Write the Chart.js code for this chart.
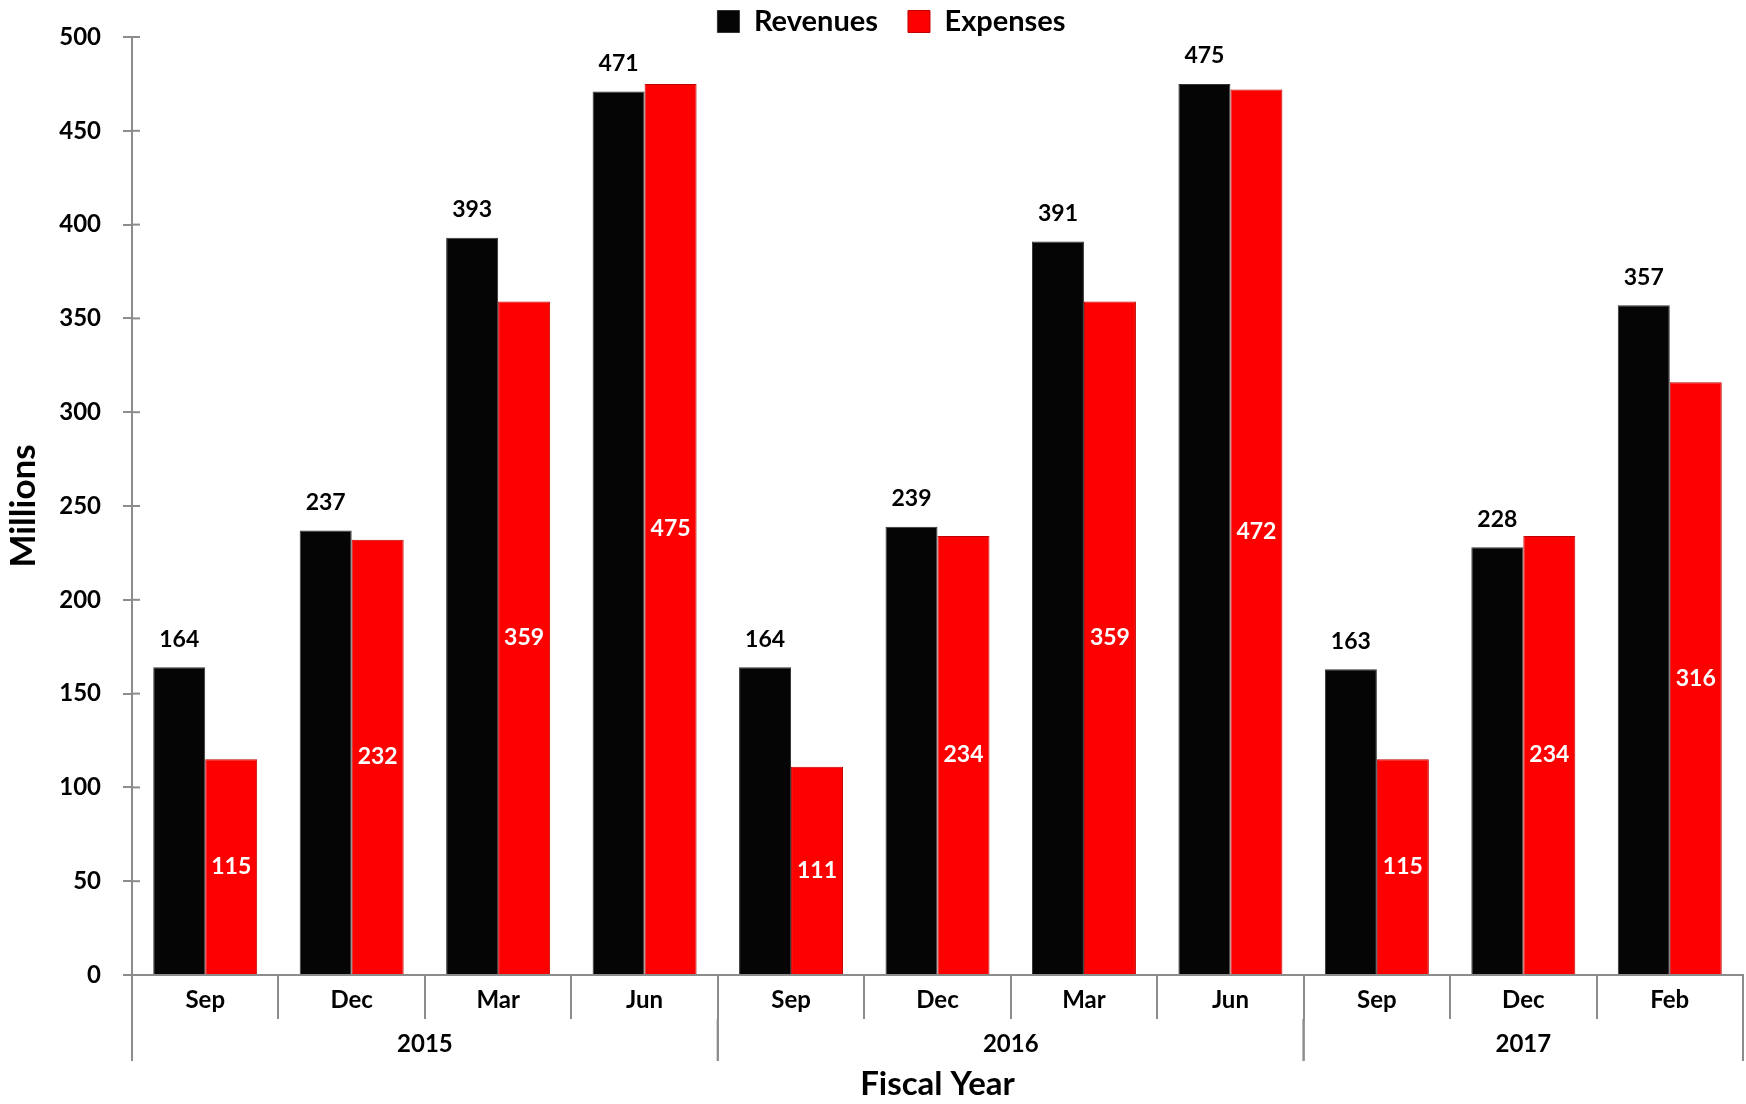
<!DOCTYPE html>
<html>
<head>
<meta charset="utf-8">
<script src="https://cdn.jsdelivr.net/npm/chart.js@4.4.0/dist/chart.umd.min.js"></script>
<style>
  html, body { margin: 0; padding: 0; background: #fff; }
  #wrap { width: 1746px; height: 1104px; }
</style>
</head>
<body>
<div id="wrap"><canvas id="BarChart"></canvas></div>
<script>
// chart values
const months = ['Sep', 'Dec', 'Mar', 'Jun', 'Sep', 'Dec', 'Mar', 'Jun', 'Sep', 'Dec', 'Feb'];
const years = ['2015', '2016', '2017'];
const yearSpans = [4, 4, 3]; // how many months fall under each year
const revenues = [164, 237, 393, 471, 164, 239, 391, 475, 163, 228, 357];
const expenses = [115, 232, 359, 475, 111, 234, 359, 472, 115, 234, 316];
const yMax = 500;
const yStep = 50;

const axisColor = '#8c8c8c';
const font = 'Lato';

// year row under the month labels + value labels on the bars
const fiscalAxis = {
  id: 'fiscalAxis',
  afterDraw(chart) {
    const ctx = chart.ctx;
    const x = chart.scales.x;
    const y = chart.scales.y;
    const area = chart.chartArea;
    ctx.save();
    ctx.strokeStyle = axisColor;
    ctx.lineWidth = 2;

    // small ticks inside the plot on the y axis
    y.ticks.forEach(t => {
      const py = y.getPixelForValue(t.value);
      ctx.beginPath();
      ctx.moveTo(area.left, py);
      ctx.lineTo(area.left + 8, py);
      ctx.stroke();
    });

    const edge = i => {
      if (i <= 0) return x.left;
      if (i >= months.length) return x.right;
      return (x.getPixelForValue(i - 1) + x.getPixelForValue(i)) / 2;
    };
    const rowTop = x.top + 44;
    const rowBottom = x.top + 86;

    ctx.font = 'bold 24px ' + font;
    ctx.fillStyle = '#000';
    ctx.textAlign = 'center';
    ctx.textBaseline = 'middle';
    let start = 0;
    years.forEach((yr, k) => {
      const end = start + yearSpans[k];
      [start, end].forEach(b => {
        ctx.beginPath();
        ctx.moveTo(edge(b), rowTop);
        ctx.lineTo(edge(b), rowBottom);
        ctx.stroke();
      });
      ctx.fillText(yr, (edge(start) + edge(end)) / 2, x.top + 69);
      start = end;
    });

    // value labels
    ctx.font = 'bold 23px ' + font;
    chart.data.datasets.forEach((ds, di) => {
      const meta = chart.getDatasetMeta(di);
      meta.data.forEach((bar, i) => {
        const v = ds.data[i];
        if (di === 0) {
          ctx.fillStyle = '#000';
          ctx.fillText(v, bar.x, bar.y - 28);
        } else {
          ctx.fillStyle = '#fff';
          ctx.fillText(v, bar.x, (bar.y + bar.base) / 2);
        }
      });
    });
    ctx.restore();
  }
};

window.onload = function() {
  const ctx = document.getElementById('BarChart').getContext('2d');
  Chart.defaults.font.family = font;

  const data = {
    labels: months,
    datasets: [{
      label: 'Revenues',
      data: revenues,
      backgroundColor: '#050505',
      borderColor: '#333333',
      borderWidth: 1,
      categoryPercentage: 0.71,
      barPercentage: 1
    }, {
      label: 'Expenses',
      data: expenses,
      backgroundColor: '#fd0000',
      borderColor: '#c00000',
      borderWidth: 1,
      categoryPercentage: 0.71,
      barPercentage: 1
    }]
  };

  const config = {
    type: 'bar',
    data: data,
    plugins: [fiscalAxis],
    options: {
      responsive: true,
      maintainAspectRatio: false,
      animation: false,
      layout: { padding: { top: -23, left: 40, right: 3, bottom: 0 } },
      plugins: {
        tooltip: { enabled: false },
        legend: {
          position: 'top',
          maxHeight: 60,
          labels: {
            font: { family: font, size: 29, weight: 'bold' },
            color: '#000',
            boxWidth: 22,
            boxHeight: 22,
            padding: 30
          }
        }
      },
      scales: {
        x: {
          offset: true,
          grid: { display: true, drawOnChartArea: false, offset: true, tickLength: 44, color: axisColor, lineWidth: 2 },
          border: { color: axisColor, width: 2 },
          ticks: { font: { size: 24, weight: 'bold' }, color: '#000', padding: -33 },
          title: { display: true, text: 'Fiscal Year', color: '#000', font: { size: 33, weight: 'bold' }, padding: { top: 0, bottom: 0 } },
          afterFit: s => { s.height = 129; }
        },
        y: {
          min: 0,
          max: yMax,
          grid: { drawOnChartArea: false, tickLength: 9, color: axisColor, lineWidth: 2 },
          border: { color: axisColor, width: 2 },
          ticks: { stepSize: yStep, font: { size: 24, weight: 'bold' }, color: '#000', padding: 22 },
          title: { display: true, text: 'Millions', color: '#000', font: { size: 35, weight: 'bold' }, padding: { top: -37, bottom: 0 } },
          afterFit: s => { s.width = 92; }
        }
      }
    }
  };

  const myChart = new Chart(ctx, config);
};
</script>
</body>
</html>
